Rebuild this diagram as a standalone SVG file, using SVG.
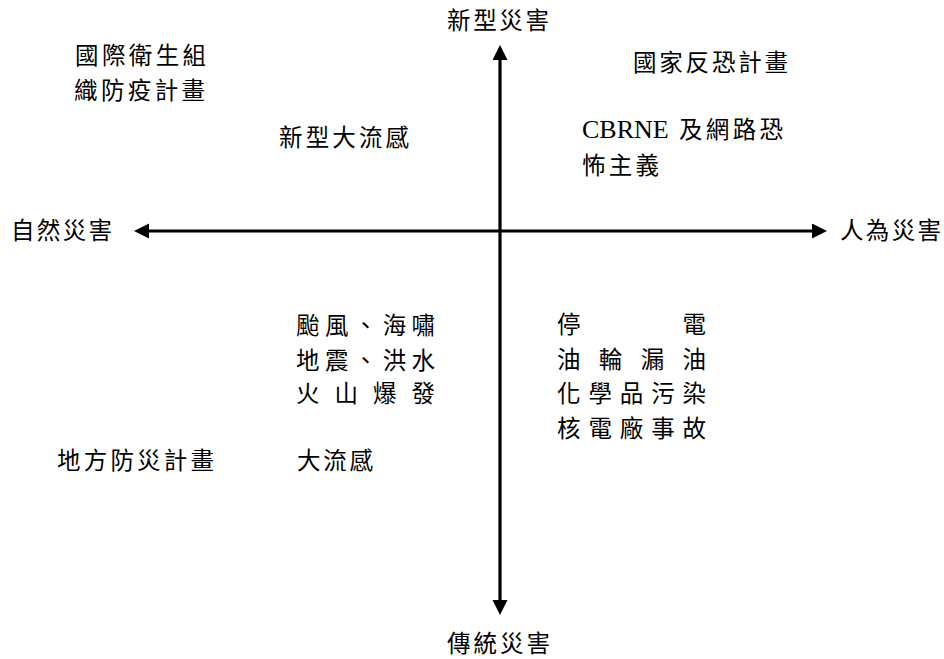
<svg xmlns="http://www.w3.org/2000/svg" width="944" height="659" viewBox="0 0 944 659">
<style>
text{font-family:"Noto Sans CJK TC","Noto Sans CJK SC",sans-serif;font-size:23.5px;fill:#000;}
.lat{font-family:"Liberation Serif","Noto Sans CJK TC",serif;font-size:26px;}
.axis{stroke:#000;stroke-width:3.2;fill:none;marker-start:url(#ah);marker-end:url(#ah);}
</style>
<defs>
<marker id="ah" markerUnits="userSpaceOnUse" markerWidth="16" markerHeight="16" refX="2" refY="7.5" orient="auto-start-reverse" viewBox="0 0 16 16">
<path d="M0,0 L15,7.5 L0,15 z" fill="#000"/>
</marker>
</defs>
<rect width="944" height="659" fill="#fff"/>
<g id="connectors">
<line class="axis" x1="147" y1="231" x2="814" y2="231"/>
<line class="axis" x1="500" y1="602" x2="500" y2="58"/>
</g>
<g id="axis-top"><text x="447" y="29" textLength="102" lengthAdjust="spacing">新型災害</text></g>
<g id="axis-bottom"><text x="447" y="652" textLength="103" lengthAdjust="spacing">傳統災害</text></g>
<g id="axis-left"><text x="11" y="239" textLength="101" lengthAdjust="spacing">自然災害</text></g>
<g id="axis-right"><text x="840" y="239" textLength="101" lengthAdjust="spacing">人為災害</text></g>
<g id="who-plan">
<text x="75" y="64" textLength="131" lengthAdjust="spacing">國際衛生組</text>
<text x="74" y="99" textLength="131" lengthAdjust="spacing">織防疫計畫</text>
</g>
<g id="new-flu"><text x="279" y="146" textLength="130" lengthAdjust="spacing">新型大流感</text></g>
<g id="anti-terror-plan"><text x="633" y="71" textLength="155" lengthAdjust="spacing">國家反恐計畫</text></g>
<g id="cbrne">
<text class="lat" x="582" y="138">CBRNE</text>
<text x="679" y="138" textLength="104" lengthAdjust="spacing">及網路恐</text>
<text x="582" y="174" textLength="77" lengthAdjust="spacing">怖主義</text>
</g>
<g id="natural-events">
<text x="296" y="334" textLength="139" lengthAdjust="spacing">颱風、海嘯</text>
<text x="296" y="369" textLength="139" lengthAdjust="spacing">地震、洪水</text>
<text x="296" y="402" textLength="139" lengthAdjust="spacing">火 山 爆 發</text>
</g>
<g id="local-plan"><text x="57" y="469" textLength="157" lengthAdjust="spacing">地方防災計畫</text></g>
<g id="flu"><text x="297" y="469" textLength="76" lengthAdjust="spacing">大流感</text></g>
<g id="manmade-events">
<text x="557" y="333" textLength="149" lengthAdjust="spacing">停電</text>
<text x="557" y="368" textLength="149" lengthAdjust="spacing">油輪漏油</text>
<text x="557" y="402" textLength="149" lengthAdjust="spacing">化學品污染</text>
<text x="557" y="437" textLength="149" lengthAdjust="spacing">核電廠事故</text>
</g>
</svg>
